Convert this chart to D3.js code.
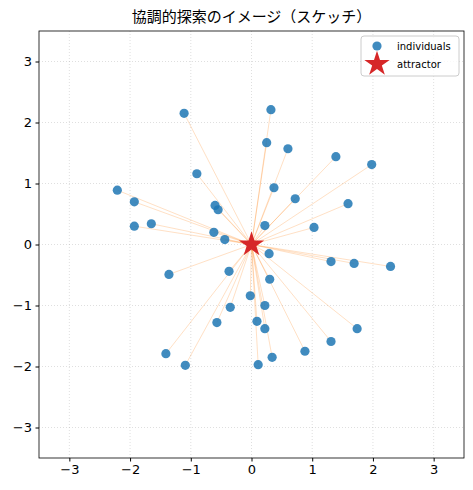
<!DOCTYPE html>
<html><head><meta charset="utf-8">
<script src="https://cdn.jsdelivr.net/npm/d3@7"></script>
<style>body{margin:0;background:#fff}</style>
</head><body>
<script>
// individuals
let xs = [-1.11,0.32,0.25,0.60,1.39,1.98,-0.90,0.37,-2.21,0.72,-1.93,1.59,-0.60,-0.55,-1.65,-1.93,0.22,1.03,-0.62,-0.44,
          0.29,1.31,1.69,2.29,-1.36,-0.37,0.30,-0.02,-0.35,0.22,-0.57,0.09,0.22,1.74,1.31,0.88,0.34,-1.41,-1.09,0.11];
let ys = [2.15,2.21,1.67,1.57,1.44,1.31,1.16,0.93,0.89,0.75,0.70,0.67,0.64,0.57,0.34,0.30,0.31,0.28,0.20,0.08,
          -0.15,-0.28,-0.31,-0.36,-0.49,-0.44,-0.57,-0.84,-1.03,-1.00,-1.28,-1.26,-1.38,-1.38,-1.59,-1.75,-1.85,-1.79,-1.98,-1.97];
let attractor = [0, 0];
let ticks = [-3,-2,-1,0,1,2,3];

let W = 473, H = 490;
let pLeft = 39, pRight = 464, pTop = 31, pBottom = 458;

let x = d3.scaleLinear().domain([-3.5,3.5]).range([pLeft,pRight]);
let y = d3.scaleLinear().domain([-3.5,3.5]).range([pBottom,pTop]);

let svg = d3.select("body").append("svg").attr("width",W).attr("height",H)
    .style("font-family","DejaVu Sans");

// grid
svg.append("g").selectAll("line").data(ticks).join("line")
    .attr("x1",d=>x(d)).attr("x2",d=>x(d)).attr("y1",pTop).attr("y2",pBottom)
    .attr("stroke","#b0b0b0").attr("stroke-opacity",0.5).attr("stroke-dasharray","1,2").attr("stroke-width",0.8);
svg.append("g").selectAll("line").data(ticks).join("line")
    .attr("y1",d=>y(d)).attr("y2",d=>y(d)).attr("x1",pLeft).attr("x2",pRight)
    .attr("stroke","#b0b0b0").attr("stroke-opacity",0.5).attr("stroke-dasharray","1,2").attr("stroke-width",0.8);

let fmt = d => d < 0 ? "\u2212" + Math.abs(d) : String(d);

svg.append("g").attr("transform",`translate(0,${pBottom})`)
    .call(d3.axisBottom(x).tickValues(ticks).tickFormat(fmt).tickSize(3.5).tickPadding(3.5))
    .call(g=>g.select(".domain").remove())
    .selectAll("text").attr("font-size",13).attr("font-family","DejaVu Sans").attr("fill","#000");
svg.append("g").attr("transform",`translate(${pLeft},0)`)
    .call(d3.axisLeft(y).tickValues(ticks).tickFormat(fmt).tickSize(3.5).tickPadding(3.5))
    .call(g=>g.select(".domain").remove())
    .selectAll("text").attr("font-size",13).attr("font-family","DejaVu Sans").attr("fill","#000");

// links
svg.append("g").selectAll("line").data(xs).join("line")
    .attr("x1",(d,i)=>x(d)).attr("y1",(d,i)=>y(ys[i]))
    .attr("x2",x(attractor[0])).attr("y2",y(attractor[1]))
    .attr("stroke","#ff7f0e").attr("stroke-opacity",0.3).attr("stroke-width",0.8);

// individuals
svg.append("g").selectAll("circle").data(xs).join("circle")
    .attr("cx",d=>x(d)).attr("cy",(d,i)=>y(ys[i])).attr("r",4.6)
    .attr("fill","#1f77b4").attr("fill-opacity",0.85);

// attractor
let star = d3.symbol().type(d3.symbolStar).size(200);
svg.append("path").attr("d",star())
    .attr("transform",`translate(${x(attractor[0])},${y(attractor[1])})`)
    .attr("fill","#d62728");

// frame
svg.append("rect").attr("x",pLeft).attr("y",pTop).attr("width",pRight-pLeft).attr("height",pBottom-pTop)
    .attr("fill","none").attr("stroke","#000").attr("stroke-width",0.8);

// title
svg.append("text").attr("x",(pLeft+pRight)/2).attr("y",22).attr("text-anchor","middle")
    .attr("font-family","Noto Sans CJK JP").attr("font-size",15)
    .text("協調的探索のイメージ（スケッチ）");

// legend
let lg = svg.append("g").attr("transform","translate(361,36)");
lg.append("rect").attr("width",98).attr("height",40).attr("rx",3)
    .attr("fill","#fff").attr("fill-opacity",0.8).attr("stroke","#ccc");
lg.append("circle").attr("cx",16).attr("cy",10).attr("r",4.6).attr("fill","#1f77b4").attr("fill-opacity",0.85);
lg.append("path").attr("d",star()).attr("transform","translate(16,28)").attr("fill","#d62728");
lg.append("text").attr("x",36).attr("y",14).attr("font-size",10).text("individuals");
lg.append("text").attr("x",36).attr("y",32).attr("font-size",10).text("attractor");
</script>
</body></html>
